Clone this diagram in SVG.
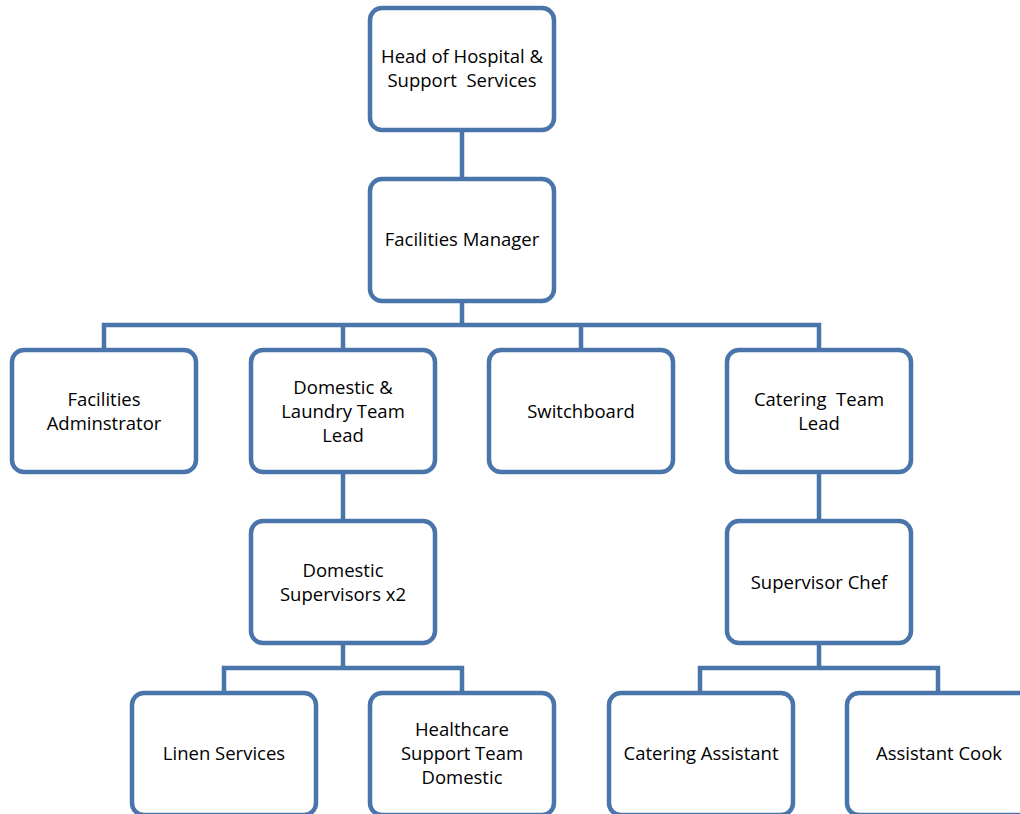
<svg xmlns="http://www.w3.org/2000/svg" width="1020" height="814" viewBox="0 0 1020 814">
<style>
.box{fill:#fff;stroke:#4a75ab;stroke-width:4.5}
.ln{fill:none;stroke:#4a75ab;stroke-width:4.5}
text{font-family:"Open Sans","Liberation Sans",sans-serif;font-size:18.5px;fill:#000;text-anchor:middle}
</style>
<rect width="1020" height="814" fill="#fff"/>
<g id="connectors">
<path class="ln" d="M462 130V179"/>
<path class="ln" d="M462 301V325M104 350V325H819V350M343 325V350M581 325V350"/>
<path class="ln" d="M343 472V521M819 472V521"/>
<path class="ln" d="M343 643V668M224 693V668H462V693"/>
<path class="ln" d="M819 643V668M700 693V668H938V693"/>
</g>
<g id="head"><rect class="box" x="370" y="8" width="184" height="122" rx="12"/><text x="462" y="63">Head of Hospital &amp;</text><text x="462" y="87" xml:space="preserve">Support  Services</text></g>
<g id="fm"><rect class="box" x="370" y="179" width="184" height="122" rx="12"/><text x="462" y="246">Facilities Manager</text></g>
<g id="fa"><rect class="box" x="12" y="350" width="184" height="122" rx="12"/><text x="104" y="406">Facilities</text><text x="104" y="430">Adminstrator</text></g>
<g id="dl"><rect class="box" x="251" y="350" width="184" height="122" rx="12"/><text x="343" y="394">Domestic &amp;</text><text x="343" y="418">Laundry Team</text><text x="343" y="442">Lead</text></g>
<g id="sw"><rect class="box" x="489" y="350" width="184" height="122" rx="12"/><text x="581" y="418">Switchboard</text></g>
<g id="ct"><rect class="box" x="727" y="350" width="184" height="122" rx="12"/><text x="819" y="406" xml:space="preserve">Catering  Team</text><text x="819" y="430">Lead</text></g>
<g id="ds"><rect class="box" x="251" y="521" width="184" height="122" rx="12"/><text x="343" y="577">Domestic</text><text x="343" y="601">Supervisors x2</text></g>
<g id="sc"><rect class="box" x="727" y="521" width="184" height="122" rx="12"/><text x="819" y="589">Supervisor Chef</text></g>
<g id="ls"><rect class="box" x="132" y="693" width="184" height="122" rx="12"/><text x="224" y="760">Linen Services</text></g>
<g id="hs"><rect class="box" x="370" y="693" width="184" height="122" rx="12"/><text x="462" y="736">Healthcare</text><text x="462" y="760">Support Team</text><text x="462" y="784">Domestic</text></g>
<g id="ca"><rect class="box" x="609" y="693" width="184" height="122" rx="12"/><text x="701" y="760">Catering Assistant</text></g>
<g id="ac"><rect class="box" x="847" y="693" width="184" height="122" rx="12"/><text x="939" y="760">Assistant Cook</text></g>
</svg>
